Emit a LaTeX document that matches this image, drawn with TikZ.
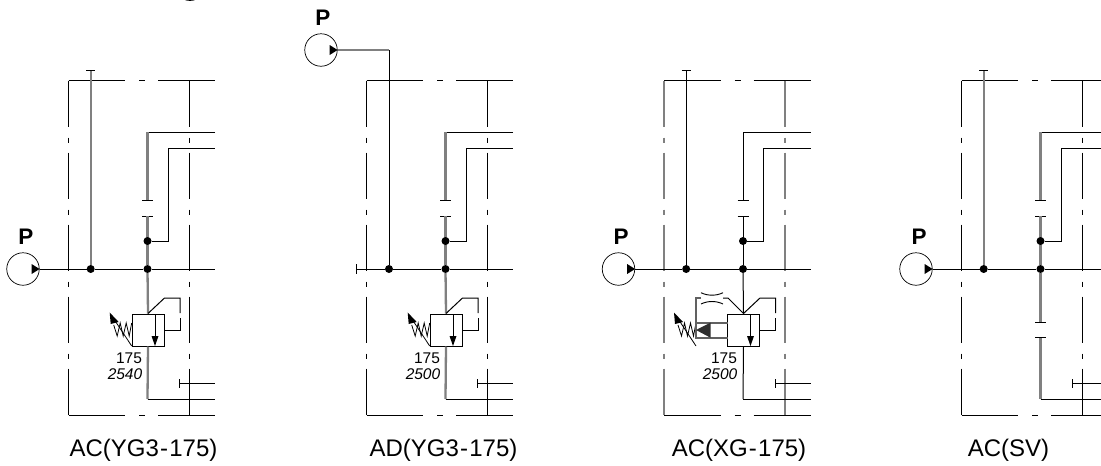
\documentclass[tikz,border=0pt]{standalone}
\usepackage{fontspec}
\setmainfont{Liberation Sans}
\usetikzlibrary{calc}
\pgfdeclarelayer{fore}
\pgfsetlayers{main,fore}
\newcommand{\hy}{\kern1.2pt-\kern1.2pt}
\tikzset{
  thinl/.style={line width=1pt,draw=black},
  greyl/.style={line width=2.3pt,draw=black!50},
  dotn/.style={circle,fill=black,inner sep=0pt,minimum size=8pt,draw=none},
  pumpn/.style={circle,draw=black,line width=0.7pt,minimum size=32.5pt,inner sep=0pt,fill=white},
  tri/.style={fill=black,draw=none},
  valven/.style={rectangle,draw=black,line width=1pt,minimum width=32pt,minimum height=32pt,inner sep=0pt},
  plab/.style={anchor=base,inner sep=0pt,font=\fontsize{22.5}{22}\selectfont\bfseries},
  numlab/.style={anchor=base,inner sep=0pt,font=\fontsize{15.5}{16}\selectfont},
  itlab/.style={anchor=base,inner sep=0pt,font=\fontsize{15.5}{16}\selectfont\itshape},
  titlab/.style={anchor=base,inner sep=0pt,font=\fontsize{24}{24}\selectfont},
  vframe/.style={thinl,dash pattern=on 46pt off 11pt on 5pt off 10pt},
  hframe/.style={thinl,dash pattern=on 56.5pt off 14pt on 6pt off 13pt on 80pt},
  frameV/.style={vframe},
  lineA/.style={thinl},
  lineB/.style={thinl},
}
% common circuit of one panel, x positions relative to the first panel
\newcommand{\panelbase}{%
  \coordinate (tl) at (68.5,80.5);
  \coordinate (bl) at (68.5,415);
  \coordinate (tr) at (189.5,80.5);
  \coordinate (br) at (189.5,415);
  \coordinate (te) at (215,80.5);
  \coordinate (be) at (215,415);
  \draw[hframe] (tl) -- (te);
  \draw[hframe] (bl) -- (be);
  \draw[frameV] (tl) -- (bl);
  \draw[frameV] (tr) -- (br);
  % upper pilot lines
  \begin{pgfonlayer}{fore}
    \node[dotn] (jB) at (147.5,269) {};
    \node[dotn] (jC) at (147.5,241) {};
  \end{pgfonlayer}
  \coordinate (tickU) at (147.5,200);
  \coordinate (tickL) at (147.5,216);
  \coordinate (c1) at (147.5,132);
  \coordinate (e1) at (215,132);
  \coordinate (c2) at (168,241);
  \coordinate (c3) at (168,148);
  \coordinate (e2) at (215,148);
  \draw[thinl] (e1) -- (c1) -- (tickU);
  \draw[lineB] (c1) -- (tickU);
  \draw[thinl] ($(tickU)+(-5.5,0)$) -- ($(tickU)+(5.5,0)$);
  \draw[thinl] ($(tickL)+(-5.5,0)$) -- ($(tickL)+(5.5,0)$);
  \draw[lineB] (tickL) -- (jB);
  \draw[thinl] (jC) -- (c2) -- (c3) -- (e2);
  % tank tick line
  \coordinate (t1) at (179.5,383.5);
  \coordinate (t2) at (215,383.5);
  \draw[thinl] (t1) -- (t2);
  \draw[thinl] ($(t1)+(0,-4.5)$) -- ($(t1)+(0,4.5)$);
  \coordinate (d1) at (147.5,399);
  \coordinate (d2) at (215,399);
  \draw[thinl] (d1) -- (d2);
}
\newcommand{\upperA}{%
  \begin{pgfonlayer}{fore}
    \node[dotn] (jA) at (90.7,269) {};
  \end{pgfonlayer}
  \coordinate (topA) at (90.7,70.5);
  \draw[lineA] (jA) -- (topA);
  \draw[thinl] ($(topA)+(-4.5,0)$) -- ($(topA)+(4.5,0)$);
}
\newcommand{\relief}{%
  \node[valven] (v) at (148,330) {};
  \draw[lineB] (jB) -- (v.north);
  \draw[lineB] (v.south) -- (d1);
  \coordinate (pa) at (164.5,298);
  \coordinate (pb) at (180,298);
  \coordinate (pc) at (180,313);
  \coordinate (pd) at (180,318);
  \coordinate (pe) at (180,330);
  \draw[thinl] (v.north) -- (pa) -- (pb) -- (pc);
  \draw[thinl] (pd) -- (pe) -- (v.east);
  \coordinate (ia) at (155,314);
  \coordinate (ib) at (155,336);
  \coordinate (ic) at (155,346);
  \draw[thinl] (ia) -- (ib);
  \fill[tri] (ic) -- ($(ib)+(-3.5,0)$) -- ($(ib)+(3.5,0)$) -- cycle;
}
\newcommand{\springat}[1]{%
  \begin{scope}[shift={(#1,0)}]
    \draw[line width=0.8pt] (0,323) -- (-2.5,336) -- (-5.5,323) -- (-8.5,336) -- (-11.5,323) -- (-14.5,336) -- (-18,325);
    \coordinate (sa) at (0,346);
    \coordinate (sb) at (-17.5,319.5);
    \coordinate (sc) at (-22,312.5);
    \draw[line width=0.8pt] (sa) -- (sb);
    \fill[tri] (sc) -- (-13,322) -- (-21,324) -- cycle;
  \end{scope}
}
\newcommand{\pump}[2]{%
  \node[pumpn] (pu) at (#1,#2) {};
  \fill[tri] (pu.east) -- ($(pu.east)+(-8,-5)$) -- ($(pu.east)+(-8,5)$) -- cycle;
}
\begin{document}
\begin{tikzpicture}[x=1pt,y=-1pt]
\clip (0,0) rectangle (1101,466);
\fill[white] (0,0) rectangle (1101,466);

% stray pump arc at the top edge
\draw[line width=0.7pt] (190,-15.5) circle (16);

% ---- panel 1
\begin{scope}[name prefix=a-,lineA/.style={greyl},lineB/.style={greyl}]
  \panelbase \upperA \relief \springat{131.7}
  \pump{23}{269}
  \coordinate (me) at (215,269);
  \draw[thinl] (pu.east) -- (jA) -- (jB) -- (me);
  \node[plab] (pl) at (26,244.5) {P};
  \node[numlab] (n1) at (129,363) {175};
  \node[itlab] (n2) at (125,379) {2540};
  \node[titlab] (ti) at (143.5,456.5) {AC(YG3\hy 175)};
\end{scope}

% ---- panel 2
\begin{scope}[xshift=298pt,name prefix=b-,lineB/.style={greyl}]
  \panelbase \relief \springat{131.7}
  \pump{23}{50}
  \begin{pgfonlayer}{fore}
    \node[dotn] (jA) at (91,269) {};
  \end{pgfonlayer}
  \coordinate (k) at (91,50);
  \draw[greyl] (pu.east) -- (k);
  \draw[thinl] (k) -- (jA);
  \coordinate (ms) at (58,269);
  \coordinate (me) at (215,269);
  \draw[thinl] (ms) -- (jA) -- (jB) -- (me);
  \draw[thinl] ($(ms)+(0,-5)$) -- ($(ms)+(0,5)$);
  \node[plab] (pl) at (25,25) {P};
  \node[numlab] (n1) at (129,363) {175};
  \node[itlab] (n2) at (125,379) {2500};
  \node[titlab] (ti) at (145.5,456.5) {AD(YG3\hy 175)};
\end{scope}

% ---- panel 3
\begin{scope}[xshift=595.5pt,name prefix=c-,frameV/.style={vframe,line width=2.3pt,draw=black!50}]
  \panelbase \upperA \relief \springat{100.5}
  \pump{23}{269}
  \coordinate (me) at (215,269);
  \draw[thinl] (pu.east) -- (jA) -- (jB) -- (me);
  % pilot orifice and piston
  \coordinate (oa) at (132.5,298);
  \coordinate (ob) at (127.5,298);
  \coordinate (oc) at (105.5,298);
  \coordinate (od) at (100.5,298);
  \coordinate (oe) at (100.5,338);
  \coordinate (of) at (132,338);
  \coordinate (og) at (100.5,323);
  \coordinate (oh) at (132,323);
  \draw[thinl] (v.north) -- (oa) -- (ob);
  \draw[line width=1.5pt,draw=black!62] (oc) -- (od) -- (oe) -- (of);
  \draw[line width=1.5pt,draw=black!62] (og) -- (oh);
  \draw[line width=0.9pt] (105.5,292.7) .. controls (112,296) and (121,296) .. (127.5,292.7);
  \draw[line width=0.9pt] (105.5,304) .. controls (112,300.7) and (121,300.7) .. (127.5,304);
  \fill[black!82] (100.5,330) -- (115,322.7) -- (115,337.7) -- cycle;
  \node[plab] (pl) at (25.5,244.5) {P};
  \node[numlab] (n1) at (128.5,363) {175};
  \node[itlab] (n2) at (124.5,379) {2500};
  \node[titlab] (ti) at (143.5,456.5) {AC(XG\hy 175)};
\end{scope}

% ---- panel 4
\begin{scope}[xshift=893pt,name prefix=d-,lineA/.style={greyl},lineB/.style={greyl}]
  \panelbase \upperA
  \pump{23}{269}
  \coordinate (me) at (215,269);
  \draw[thinl] (pu.east) -- (jA) -- (jB) -- (me);
  \coordinate (tu) at (147.5,322.7);
  \coordinate (tl2) at (147.5,337.7);
  \draw[lineB] (jB) -- (tu);
  \draw[lineB] (tl2) -- (d1);
  \draw[thinl] ($(tu)+(-5.5,0)$) -- ($(tu)+(5.5,0)$);
  \draw[thinl] ($(tl2)+(-5.5,0)$) -- ($(tl2)+(5.5,0)$);
  \node[plab] (pl) at (26,244.5) {P};
  \node[titlab] (ti) at (115.5,456.5) {AC(SV)};
\end{scope}
\end{tikzpicture}
\end{document}
